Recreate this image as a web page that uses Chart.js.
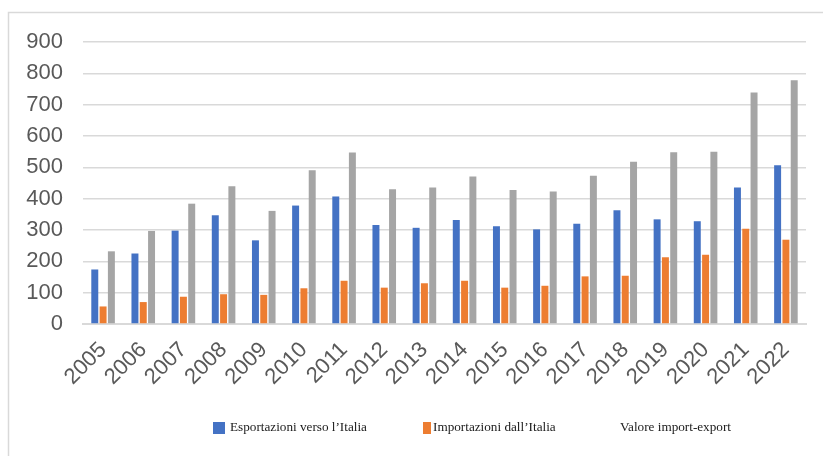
<!DOCTYPE html>
<html>
<head>
<meta charset="utf-8">
<script src="https://cdn.jsdelivr.net/npm/chart.js@4"></script>
<style>
html,body{margin:0;padding:0;background:#fff;}
#wrap{position:absolute;left:0;top:0;width:823px;height:456px;}
</style>
</head>
<body>
<div id="wrap"><canvas id="c" width="823" height="456"></canvas></div>
<script>
const years = ['2005','2006','2007','2008','2009','2010','2011','2012','2013','2014','2015','2016','2017','2018','2019','2020','2021','2022'];
const esportazioni = [174,225,298,347,267,378,407,316,307,332,312,302,320,363,334,328,436,507];
const importazioni = [56,70,87,95,93,114,138,116,130,138,116,122,152,154,213,221,304,269];
const valore = [232,297,384,440,361,491,547,430,436,471,428,423,473,518,548,550,739,778];
const seriesNames = ['Esportazioni verso l’Italia','Importazioni dall’Italia','Valore import-export'];
const yTicks = [0,100,200,300,400,500,600,700,800,900];

const frameAndLegend = {
  id: 'frameAndLegend',
  beforeDraw(chart) {
    const ctx = chart.ctx;
    ctx.save();
    ctx.fillStyle = '#ffffff';
    ctx.fillRect(0, 0, chart.width, chart.height);
    ctx.strokeStyle = '#d9d9d9';
    ctx.lineWidth = 1.5;
    ctx.beginPath();
    ctx.moveTo(8.5, chart.height);
    ctx.lineTo(8.5, 12.5);
    ctx.lineTo(chart.width, 12.5);
    ctx.stroke();
    ctx.restore();
  },
  afterDraw(chart) {
    const ctx = chart.ctx;
    ctx.save();
    ctx.font = '13.2px "Liberation Serif", "Times New Roman", serif';
    ctx.textBaseline = 'middle';
    const items = [
      {box: 213, bw: 12, text: 230},
      {box: 423, bw: 8, text: 433},
      {box: null, bw: 0, text: 620}
    ];
    const cy = 428;
    chart.data.datasets.forEach((ds, i) => {
      const it = items[i];
      if (it.box !== null) {
        ctx.fillStyle = ds.backgroundColor;
        ctx.fillRect(it.box, cy - 6, it.bw, 12);
      }
      ctx.fillStyle = '#1a1a1a';
      ctx.fillText(ds.label, it.text, cy);
    });
    ctx.restore();
  }
};

new Chart(document.getElementById('c'), {
  type: 'bar',
  data: {
    labels: years,
    datasets: [
      {label: seriesNames[0], data: esportazioni, backgroundColor: '#4472c4'},
      {label: seriesNames[1], data: importazioni, backgroundColor: '#ed7d31'},
      {label: seriesNames[2], data: valore, backgroundColor: '#a5a5a5'}
    ]
  },
  options: {
    responsive: false,
    animation: false,
    devicePixelRatio: 1,
    layout: {padding: {top: 42, right: 17, bottom: 0, left: 0}},
    datasets: {bar: {categoryPercentage: 0.62, barPercentage: 0.84}},
    plugins: {legend: {display: false}, tooltip: {enabled: false}},
    scales: {
      x: {
        grid: {display: false, drawTicks: false},
        border: {display: true, color: '#d9d9d9', width: 2},
        ticks: {
          minRotation: 45, maxRotation: 45, autoSkip: false, padding: 13,
          color: '#595959',
          font: {family: '"Liberation Sans", Arial, sans-serif', size: 22}
        },
        afterFit(s) { s.height = 132; }
      },
      y: {
        min: 0, max: 900,
        afterBuildTicks(s) { s.ticks = yTicks.map(v => ({value: v})); },
        grid: {color: '#d9d9d9', lineWidth: 1.5, drawTicks: false},
        border: {display: false},
        ticks: {
          padding: 20, color: '#595959',
          font: {family: '"Liberation Sans", Arial, sans-serif', size: 22}
        },
        afterFit(s) { s.width = 83; }
      }
    }
  },
  plugins: [frameAndLegend]
});
</script>
</body>
</html>
